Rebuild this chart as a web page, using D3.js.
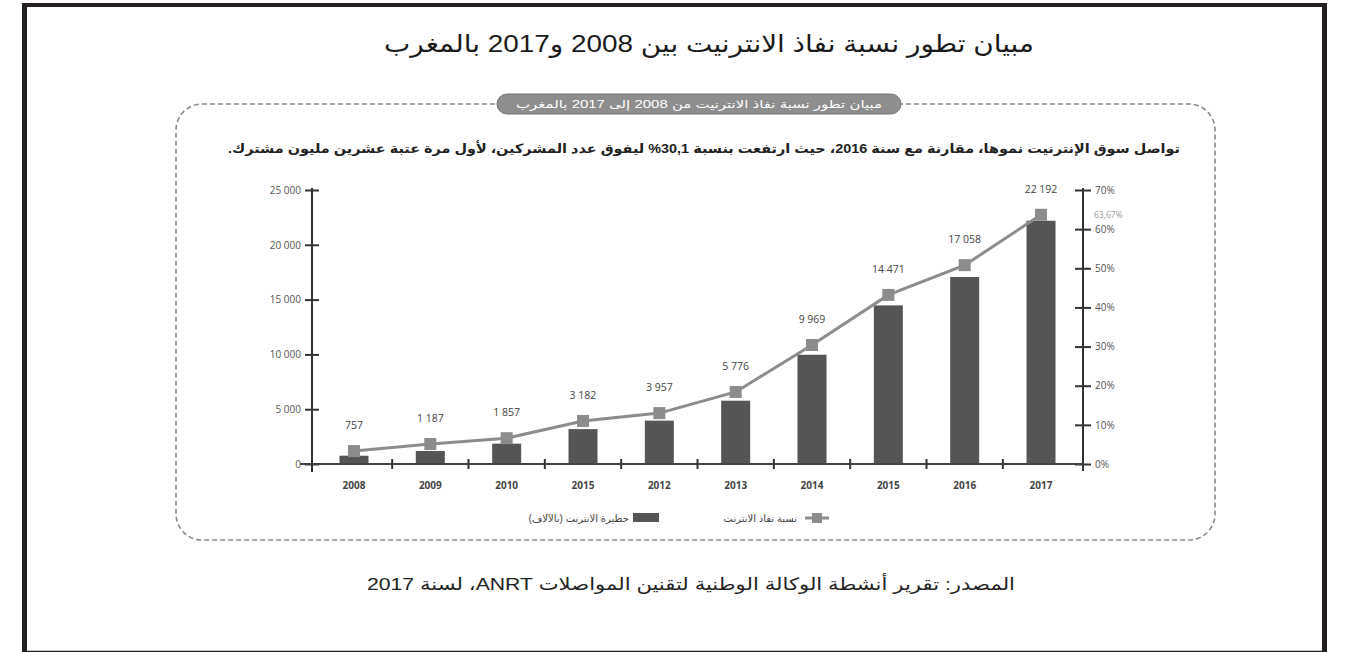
<!DOCTYPE html>
<html>
<head>
<meta charset="utf-8">
<script src="https://cdn.jsdelivr.net/npm/d3@7"></script>
<style>
  body { margin: 0; background: #fff; }
  svg { display: block; font-family: "Liberation Sans", "DejaVu Sans", sans-serif; }
</style>
</head>
<body>
<svg id="chart" width="1347" height="652"></svg>
<script>
// chart data
const years = ["2008", "2009", "2010", "2015", "2012", "2013", "2014", "2015", "2016", "2017"];
const subscribers = [757, 1187, 1857, 3182, 3957, 5776, 9969, 14471, 17058, 22192];
const penetration = [3.3, 5.1, 6.6, 11.0, 13.0, 18.4, 30.4, 43.2, 50.8, 63.67];
const leftTicks = [0, 5000, 10000, 15000, 20000, 25000];
const rightTicks = [0, 10, 20, 30, 40, 50, 60, 70];

const titleText = "مبيان تطور نسبة نفاذ الانترنيت بين 2008 و2017 بالمغرب";
const pillText = "مبيان تطور نسبة نفاذ الانترنيت من 2008 إلى 2017 بالمغرب";
const leadText = "تواصل سوق الإنترنيت نموها، مقارنة مع سنة 2016، حيث ارتفعت بنسبة 30,1% ليفوق عدد المشركين، لأول مرة عتبة عشرين مليون مشترك.";
const sourceText = "المصدر: تقرير أنشطة الوكالة الوطنية لتقنين المواصلات ANRT، لسنة 2017";
const legendBars = "حظيرة الانترنت (بالآلاف)";
const legendLine = "نسبة نفاذ الانترنت";

const svg = d3.select("#chart");
const fmt = v => d3.format(",")(v).replace(/,/g, " ");

// outer black frame
const frame = svg.append("g").attr("stroke", "#231f20").attr("fill", "none");
frame.append("line").attr("x1", 24.5).attr("x2", 24.5).attr("y1", 3).attr("y2", 652).attr("stroke-width", 5);
frame.append("line").attr("x1", 1324.5).attr("x2", 1324.5).attr("y1", 3).attr("y2", 652).attr("stroke-width", 5);
frame.append("line").attr("x1", 22).attr("x2", 1327).attr("y1", 5).attr("y2", 5).attr("stroke-width", 4);
frame.append("line").attr("x1", 22).attr("x2", 1327).attr("y1", 651.5).attr("y2", 651.5).attr("stroke-width", 1.5);

svg.append("text")
    .attr("x", 709).attr("y", 52)
    .attr("text-anchor", "middle")
    .attr("direction", "rtl")
    .attr("font-size", "24px")
    .attr("textLength", 650)
    .attr("lengthAdjust", "spacingAndGlyphs")
    .attr("fill", "#1a1a1a")
    .text(titleText);

// dashed rounded box + grey pill
svg.append("rect")
    .attr("x", 176).attr("y", 104).attr("width", 1039).attr("height", 436)
    .attr("rx", 26)
    .attr("fill", "none")
    .attr("stroke", "#8a8a8a")
    .attr("stroke-width", 1.6)
    .attr("stroke-dasharray", "5,3");

svg.append("rect")
    .attr("x", 497).attr("y", 94).attr("width", 404).attr("height", 20)
    .attr("rx", 10)
    .attr("fill", "#8e8e8e")
    .attr("stroke", "#777");

svg.append("text")
    .attr("x", 699).attr("y", 108)
    .attr("text-anchor", "middle")
    .attr("direction", "rtl")
    .attr("font-size", "11px")
    .attr("textLength", 366)
    .attr("lengthAdjust", "spacingAndGlyphs")
    .attr("fill", "#fff")
    .text(pillText);

svg.append("text")
    .attr("x", 704).attr("y", 153)
    .attr("text-anchor", "middle")
    .attr("direction", "rtl")
    .attr("font-size", "13px")
    .attr("font-weight", "bold")
    .attr("textLength", 952)
    .attr("lengthAdjust", "spacingAndGlyphs")
    .attr("fill", "#222")
    .text(leadText);

// scales
const x = d3.scaleBand()
    .domain(d3.range(years.length))
    .range([312, 1083])
    .paddingInner(0.62)
    .paddingOuter(0.36);

const y = d3.scaleLinear().domain([0, 25000]).range([464, 190]);
const yPct = d3.scaleLinear().domain([0, 70]).range([464, 190]);

// bars
svg.append("g").selectAll("rect")
    .data(subscribers)
    .join("rect")
    .attr("x", (d, i) => x(i))
    .attr("y", d => y(d))
    .attr("width", x.bandwidth())
    .attr("height", d => y(0) - y(d))
    .attr("fill", "#555555");

// left axis
const axisL = svg.append("g")
    .attr("transform", "translate(312,0)")
    .call(d3.axisLeft(y).tickValues(leftTicks).tickFormat(fmt).tickSize(7).tickPadding(4));
axisL.select(".domain").remove();
axisL.selectAll(".tick line").attr("x1", -7).attr("x2", 7).attr("stroke", "#333").attr("stroke-width", 2);
axisL.selectAll(".tick text").attr("font-size", "10px").attr("fill", "#555").attr("font-family", "Open Sans, sans-serif");
axisL.append("line").attr("x1", 0).attr("x2", 0).attr("y1", 188).attr("y2", 472).attr("stroke", "#333").attr("stroke-width", 2);

// right axis
const axisR = svg.append("g")
    .attr("transform", "translate(1083,0)")
    .call(d3.axisRight(yPct).tickValues(rightTicks).tickFormat(d => d + "%").tickSize(8).tickPadding(4));
axisR.select(".domain").remove();
axisR.selectAll(".tick line").attr("x1", -8).attr("x2", 8).attr("stroke", "#333").attr("stroke-width", 2);
axisR.selectAll(".tick text").attr("font-size", "10px").attr("fill", "#555").attr("font-family", "Open Sans, sans-serif");
axisR.append("line").attr("x1", 0).attr("x2", 0).attr("y1", 188).attr("y2", 471).attr("stroke", "#333").attr("stroke-width", 2);

// bottom axis
const axisB = svg.append("g")
    .attr("transform", "translate(0,464)")
    .call(d3.axisBottom(x).tickFormat(i => years[i]).tickSize(0).tickPadding(18));
axisB.select(".domain").remove();
axisB.selectAll(".tick text").attr("font-size", "10px").attr("fill", "#444").attr("font-weight", "bold").attr("font-family", "Open Sans, sans-serif");
axisB.append("line").attr("x1", 300).attr("x2", 1083).attr("y1", 0).attr("y2", 0).attr("stroke", "#444").attr("stroke-width", 2);
axisB.selectAll(".sep")
    .data(d3.range(1, years.length))
    .join("line")
    .attr("class", "sep")
    .attr("x1", i => x(i) - x.step() * x.paddingInner() / 2)
    .attr("x2", i => x(i) - x.step() * x.paddingInner() / 2)
    .attr("y1", -5).attr("y2", 5)
    .attr("stroke", "#333").attr("stroke-width", 2);

// penetration line
const cx = i => x(i) + x.bandwidth() / 2;
svg.append("path")
    .datum(penetration)
    .attr("d", d3.line().x((d, i) => cx(i)).y(d => yPct(d)))
    .attr("fill", "none")
    .attr("stroke", "#8c8c8c")
    .attr("stroke-width", 3);

svg.append("g").selectAll("rect")
    .data(penetration)
    .join("rect")
    .attr("x", (d, i) => cx(i) - 6)
    .attr("y", d => yPct(d) - 6)
    .attr("width", 12).attr("height", 12)
    .attr("fill", "#8c8c8c");

// value labels
svg.append("g").selectAll("text")
    .data(subscribers)
    .join("text")
    .attr("x", (d, i) => cx(i))
    .attr("y", (d, i) => Math.min(y(d), yPct(penetration[i])) - 22)
    .attr("text-anchor", "middle")
    .attr("font-size", "10.5px")
    .attr("font-family", "Open Sans, sans-serif")
    .attr("fill", "#444")
    .text(fmt);

svg.append("text")
    .attr("x", 1094).attr("y", yPct(penetration[penetration.length - 1]) + 3)
    .attr("font-size", "8.5px")
    .attr("font-family", "Open Sans, sans-serif")
    .attr("fill", "#999")
    .text("63,67%");

// legend
const legend = svg.append("g").attr("font-size", "10px").attr("fill", "#444");
legend.append("line").attr("x1", 805).attr("x2", 829).attr("y1", 518).attr("y2", 518)
    .attr("stroke", "#8c8c8c").attr("stroke-width", 3);
legend.append("rect").attr("x", 812).attr("y", 513).attr("width", 10).attr("height", 10).attr("fill", "#8c8c8c");
legend.append("text").attr("x", 797).attr("y", 522).attr("direction", "rtl").attr("text-anchor", "start")
    .attr("fill", "#444").text(legendLine);
legend.append("rect").attr("x", 633).attr("y", 513).attr("width", 26).attr("height", 9).attr("fill", "#555");
legend.append("text").attr("x", 629).attr("y", 522).attr("direction", "rtl").attr("text-anchor", "start")
    .attr("fill", "#444").text(legendBars);

// source
svg.append("text")
    .attr("x", 691).attr("y", 590)
    .attr("direction", "rtl")
    .attr("text-anchor", "middle")
    .attr("font-size", "17px")
    .attr("textLength", 648)
    .attr("lengthAdjust", "spacingAndGlyphs")
    .attr("fill", "#222")
    .text(sourceText);
</script>
</body>
</html>
